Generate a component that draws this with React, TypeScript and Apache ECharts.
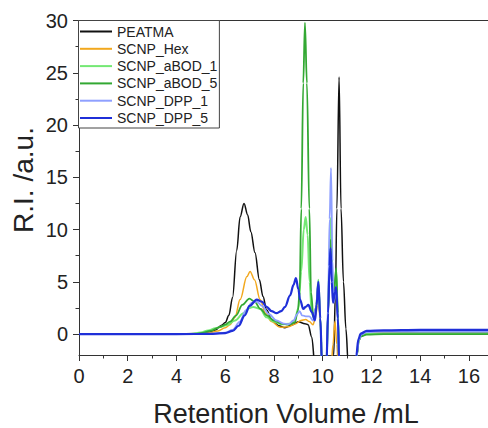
import React, { useEffect, useRef } from "react";
import * as echarts from "echarts";

const seriesNames = ["PEATMA", "SCNP_Hex", "SCNP_aBOD_1", "SCNP_aBOD_5", "SCNP_DPP_1", "SCNP_DPP_5"];
const seriesColors = ["#111111", "#F2A81E", "#74E874", "#33A833", "#8FA0FF", "#1F2FD8"];
const lineWidths = [1.5, 1.5, 2, 1.8, 1.8, 2.2];

const xTickLabels = [0, 2, 4, 6, 8, 10, 12, 14, 16];
const xMinorTicks = [1, 3, 5, 7, 9, 11, 13, 15];
const yTickLabels = [0, 5, 10, 15, 20, 25, 30];
const yMinorTicks = [2.5, 7.5, 12.5, 17.5, 22.5, 27.5];

const peatma = [[0,0],[2,0],[4,0],[4.8,0.05],[5.3,0.15],[5.6,0.4],[5.85,0.85],[6.0,1.1],[6.15,1.8],[6.3,3.5],[6.47,8.0],[6.61,11.2],[6.77,12.5],[6.92,11.4],[7.05,9.8],[7.22,7.8],[7.4,5.2],[7.55,3.6],[7.7,2.3],[7.9,1.4],[8.2,0.8],[8.45,0.6],[8.73,0.86],[9.0,1.18],[9.27,1.0],[9.4,0.9],[9.55,-0.3],[9.68,-3],[9.8,-6],[10.3,-6],[10.45,-2],[10.52,4],[10.58,12],[10.67,24.6],[10.75,12],[10.85,5],[10.95,0.5],[11.05,-3],[11.15,-6],[11.33,-6],[11.4,-2],[11.48,-0.6],[11.58,-0.1],[11.8,0.1],[12.3,0.15],[14,0.2],[16.8,0.2]];

const scnpHex = [[0,0],[2,0],[4,0],[4.8,0.03],[5.3,0.1],[5.7,0.3],[6.0,0.6],[6.2,0.9],[6.4,1.6],[6.61,3.3],[6.89,5.5],[7.02,6.0],[7.2,5.2],[7.43,3.3],[7.65,2.0],[7.9,1.2],[8.25,0.65],[8.6,0.7],[8.9,1.0],[9.1,1.3],[9.3,1.4],[9.45,1.2],[9.6,0.9],[9.72,1.8],[9.82,4.0],[9.9,1.0],[9.97,-3],[10.35,-3],[10.42,-1],[10.5,1.2],[10.58,-1],[10.65,-4],[11.33,-4],[11.4,-2],[11.48,-0.6],[11.58,-0.05],[11.8,0.15],[12.5,0.2],[14,0.25],[16.8,0.25]];

const scnpABod1 = [[0,0],[2,0],[4,0],[4.6,0.02],[5.0,0.15],[5.3,0.35],[5.6,0.55],[5.9,0.75],[6.07,0.86],[6.4,1.3],[6.75,2.0],[7.0,2.5],[7.15,2.6],[7.43,2.4],[7.7,1.6],[8.0,1.2],[8.3,0.95],[8.66,1.0],[8.85,1.3],[9.0,2.5],[9.12,6],[9.22,10],[9.3,11.2],[9.38,9.5],[9.46,5],[9.55,2.0],[9.65,1.5],[9.73,2.5],[9.82,5.2],[9.9,1.5],[9.97,-3],[10.15,-3],[10.22,2],[10.28,8],[10.33,11.1],[10.4,5],[10.46,3.5],[10.55,6.0],[10.62,2],[10.68,-3],[11.33,-3],[11.4,-2],[11.48,-0.6],[11.58,-0.15],[11.8,0],[12.5,0.05],[16.8,0.05]];

const scnpABod5 = [[0,0],[2,0],[4,0],[4.8,0.03],[5.0,0.08],[5.4,0.3],[5.8,0.7],[6.0,0.9],[6.2,1.2],[6.45,1.8],[6.7,2.8],[6.99,3.4],[7.2,3.1],[7.45,2.4],[7.7,1.8],[8.0,1.3],[8.3,1.0],[8.6,0.9],[8.85,1.1],[8.98,2.2],[9.05,4],[9.12,12],[9.2,24],[9.27,29.8],[9.35,24],[9.45,12],[9.52,4],[9.62,1.6],[9.72,2.5],[9.82,4.8],[9.9,1.5],[9.97,-3],[10.15,-3],[10.22,2],[10.28,7],[10.33,9.0],[10.4,5],[10.46,4],[10.55,6.3],[10.62,2],[10.68,-3],[11.33,-3],[11.4,-2],[11.48,-0.6],[11.58,-0.2],[11.8,-0.05],[12.5,0],[16.8,0]];

const scnpDpp1 = [[0,0],[2,0],[4,0],[5.5,0.05],[6.0,0.15],[6.3,0.4],[6.6,1.2],[6.85,2.3],[7.1,3.0],[7.3,3.1],[7.5,2.7],[7.8,1.9],[8.1,1.3],[8.4,1.0],[8.6,0.95],[8.8,1.3],[8.95,1.9],[9.05,2.2],[9.15,1.8],[9.3,1.7],[9.45,1.7],[9.6,1.3],[9.72,2.5],[9.82,5.0],[9.9,1.5],[9.97,-3],[10.15,-3],[10.22,3],[10.28,11],[10.34,15.9],[10.4,7],[10.45,3.0],[10.55,4.5],[10.62,1],[10.68,-3],[11.33,-3],[11.4,-2],[11.48,-0.6],[11.58,-0.05],[11.8,0.2],[12.5,0.25],[16.8,0.25]];

const scnpDpp5 = [[0,0],[2,0],[4,0],[5.5,0.02],[6.0,0.1],[6.3,0.3],[6.55,0.8],[6.8,1.8],[7.0,2.7],[7.29,3.3],[7.5,3.1],[7.7,2.6],[7.9,2.2],[8.1,2.0],[8.3,2.2],[8.45,2.6],[8.66,3.7],[8.8,4.7],[8.9,5.35],[9.0,4.3],[9.07,3.3],[9.2,2.4],[9.3,2.6],[9.41,2.8],[9.55,2.1],[9.68,1.3],[9.75,2.8],[9.82,5.0],[9.9,1.5],[9.97,-3],[10.15,-3],[10.22,2],[10.28,6.5],[10.32,8.2],[10.37,5.0],[10.42,3.0],[10.5,4.0],[10.55,4.5],[10.62,1.5],[10.68,-3],[11.33,-3],[11.38,-2],[11.46,-0.5],[11.56,0.05],[11.8,0.3],[12.5,0.35],[14,0.4],[16.8,0.4]];

const seriesData = [peatma, scnpHex, scnpABod1, scnpABod5, scnpDpp1, scnpDpp5];

const FONT = "'Liberation Sans', Arial, sans-serif";
const AXIS_COLOR = "#333";

export default function App() {
  const ref = useRef<HTMLDivElement>(null);
  useEffect(() => {
    if (!ref.current) return;
    const chart = echarts.init(ref.current, null, { renderer: "svg" });
    const xMin = 0, xMax = 16.78, yMin = -2, yMax = 30;
    const option: any = {
      animation: false,
      backgroundColor: "#fff",
      grid: { left: 79, right: 0, top: 20.5, bottom: 73, containLabel: false },
      legend: {
        orient: "vertical",
        left: 78.5,
        top: 20.5,
        padding: [4, 2, 3, 1.5],
        itemGap: 3.3,
        itemWidth: 32,
        itemHeight: 2,
        icon: "rect",
        borderColor: "#444",
        borderWidth: 1,
        backgroundColor: "#fff",
        data: seriesNames,
        textStyle: { fontFamily: FONT, fontSize: 14, color: "#222", lineHeight: 14 },
      },
      xAxis: [
        {
          type: "value", min: xMin, max: xMax, position: "bottom",
          axisLine: { show: true, onZero: false, lineStyle: { color: AXIS_COLOR, width: 1 } },
          axisTick: { show: true, inside: false, length: 6, customValues: xTickLabels, lineStyle: { color: AXIS_COLOR } },
          axisLabel: { show: true, customValues: xTickLabels, margin: 11, fontFamily: FONT, fontSize: 20, color: "#222" },
          splitLine: { show: false },
        },
        {
          type: "value", min: xMin, max: xMax, position: "bottom",
          axisLine: { show: false, onZero: false },
          axisTick: { show: true, inside: false, length: 3.5, customValues: xMinorTicks, lineStyle: { color: AXIS_COLOR } },
          axisLabel: { show: false },
          splitLine: { show: false },
        },
        {
          type: "value", min: xMin, max: xMax, position: "top",
          axisLine: { show: true, onZero: false, lineStyle: { color: AXIS_COLOR, width: 1 } },
          axisTick: { show: false },
          axisLabel: { show: false },
          splitLine: { show: false },
        },
      ],
      yAxis: [
        {
          type: "value", min: yMin, max: yMax, position: "left",
          axisLine: { show: true, onZero: false, lineStyle: { color: AXIS_COLOR, width: 1 } },
          axisTick: { show: true, inside: false, length: 6, customValues: yTickLabels, lineStyle: { color: AXIS_COLOR } },
          axisLabel: { show: true, customValues: yTickLabels, margin: 11, fontFamily: FONT, fontSize: 20, color: "#222" },
          splitLine: { show: false },
        },
        {
          type: "value", min: yMin, max: yMax, position: "left",
          axisLine: { show: false, onZero: false },
          axisTick: { show: true, inside: false, length: 3.5, customValues: yMinorTicks, lineStyle: { color: AXIS_COLOR } },
          axisLabel: { show: false },
          splitLine: { show: false },
        },
      ],
      graphic: [
        {
          type: "text", x: 286, y: 414,
          style: { text: "Retention Volume /mL", fontFamily: FONT, fontSize: 27, lineHeight: 24, fill: "#222", align: "center", verticalAlign: "middle" },
        },
        {
          type: "text", x: 23, y: 180, rotation: Math.PI / 2,
          style: { text: "R.I. /a.u.", fontFamily: FONT, fontSize: 28, fill: "#222", align: "center", verticalAlign: "middle" },
        },
      ],
      series: seriesNames.map((name, i) => ({
        name,
        type: "line",
        xAxisIndex: 0,
        yAxisIndex: 0,
        data: seriesData[i],
        showSymbol: false,
        symbol: "none",
        smooth: 0.35,
        smoothMonotone: "x",
        clip: true,
        color: seriesColors[i],
        lineStyle: { color: seriesColors[i], width: lineWidths[i] },
        emphasis: { disabled: true },
      })),
    };
    chart.setOption(option);
    return () => chart.dispose();
  }, []);
  return (
    <div
      ref={ref}
      style={{ position: "fixed", left: 0, top: 0, width: 488, height: 428, background: "#fff" }}
    />
  );
}
